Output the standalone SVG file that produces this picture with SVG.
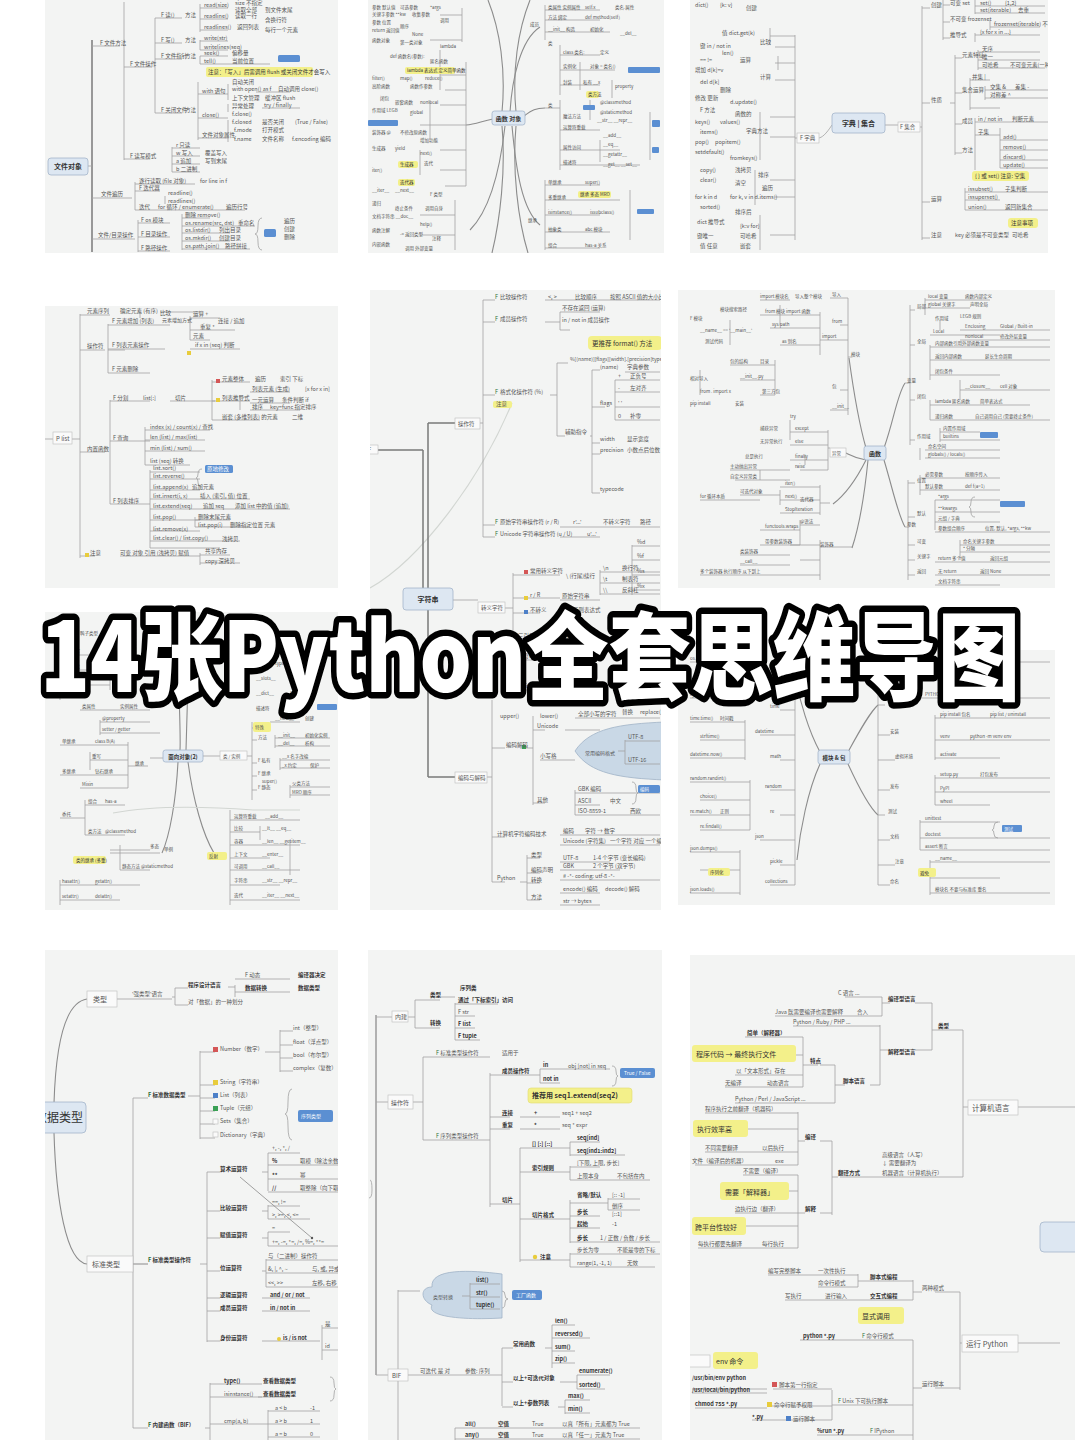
<svg xmlns="http://www.w3.org/2000/svg" width="1080" height="1440" viewBox="0 0 1080 1440">
<style>
.bg{fill:#f3f4f3}
.ln{fill:none;stroke:#a2a2a2;stroke-width:0.8}
.lk{fill:none;stroke:#7a7a7a;stroke-width:1.5}
.cv{fill:none;stroke:#8c8c8c;stroke-width:1.1}
.fc{fill:none;stroke:#d2d6d2;stroke-width:1.2}
.t{font-family:"Noto Sans CJK SC","Noto Sans",sans-serif;font-size:5.5px;fill:#555}
.tm{font-family:"Noto Sans CJK SC","Noto Sans",sans-serif;font-size:7px;fill:#3c3c3c}
.tb{font-weight:bold;fill:#333}
.root{fill:#dde7f2;stroke:#a3b5ca;stroke-width:0.8}
.nb{fill:#fafafa;stroke:#bcbcbc;stroke-width:0.6}
.hl{fill:#f3f08a}
.tag{fill:#5b8fd2}
.ir{fill:#d45656}.iy{fill:#e8cc3c}.ib{fill:#4d80c8}.ig{fill:#3aa055}
.shape{fill:#c9d8e6;stroke:#9fb3c7;stroke-width:0.8}
.ttl{font-family:"Noto Sans CJK SC","Noto Sans",sans-serif;font-weight:900;font-size:96px;fill:#ffffff;stroke:#000000;stroke-width:13;stroke-linejoin:round;paint-order:stroke}
</style>
<defs>
<clipPath id="c1"><rect x="45" y="0" width="293" height="253"/></clipPath>
<clipPath id="c2"><rect x="368" y="0" width="296" height="253"/></clipPath>
<clipPath id="c3"><rect x="690" y="0" width="358" height="253"/></clipPath>
<clipPath id="c4"><rect x="45" y="306" width="293" height="282"/></clipPath>
<clipPath id="c5"><rect x="370" y="290" width="291" height="620"/></clipPath>
<clipPath id="c6"><rect x="678" y="290" width="377" height="298"/></clipPath>
<clipPath id="c7"><rect x="45" y="612" width="293" height="298"/></clipPath>
<clipPath id="c8"><rect x="678" y="650" width="377" height="255"/></clipPath>
<clipPath id="c9"><rect x="45" y="950" width="293" height="490"/></clipPath>
<clipPath id="c10"><rect x="368" y="950" width="294" height="490"/></clipPath>
<clipPath id="c11"><rect x="690" y="955" width="385" height="485"/></clipPath>
</defs>
<rect x="0" y="0" width="1080" height="1440" fill="#ffffff"/>

<!-- Panel 1: 文件对象 -->
<g id="panel1" clip-path="url(#c1)">
<rect class="bg" x="45" y="0" width="293" height="253"/>
<g id="p1-connectors">
<path class="lk" d="M92,40 V252"/>
<path class="ln" d="M88,166 H92 M92,46 H120 M92,198 H132 M92,239 H135 M124,2 V160 M124,67 H152 M124,159 H150 M155,18 V113 M155,18 H182 M155,43 H182 M155,59 H182 M155,113 H182 M200,4 V32 M200,8 H228 M200,19 H228 M200,30 H228 M200,40 V50 M200,41 H228 M200,50 H228 M200,56 V64 M200,56 H228 M200,64 H270 M198,82 V140 M198,94 H228 M198,118 H228 M198,138 H228 M228,84 V100 M256,92 H290 M228,104 V112 M228,120 V142 M262,108 H300 M172,147 V172 M172,148 H200 M172,156 H200 M172,164 H200 M172,172 H200 M135,182 V210 M135,184 H195 M135,191 H160 M165,196 V204 M135,210 H245 M138,220 V252 M138,223 H170 M138,237 H170 M138,251 H170 M182,214 V250 M182,218 H210 M182,226 H255 M182,233 H230 M182,241 H230 M182,249 H250"/>
<path class="ln" d="M262,218 Q258,218 258,226 Q258,234 255,234 Q258,234 258,242 Q258,250 262,250"/>
</g>
<g id="p1-root"><rect class="root" x="48" y="158" width="40" height="17" rx="3"/><text class="tm tb" x="68" y="169" text-anchor="middle">文件对象</text></g>
<rect class="hl" x="206" y="67" width="107" height="10" rx="2"/>
<rect class="tag" x="278" y="55" width="22" height="7" rx="1.5"/>
<rect class="tag" x="264" y="229" width="12" height="8" rx="1.5"/>
<g class="t">
<text x="100" y="45">F 文件方法</text><text x="130" y="66">F 文件操作</text><text x="130" y="158">F 读写模式</text>
<text x="161" y="17">F 读()</text><text x="161" y="42">F 写()</text><text x="161" y="58">F 文件指针</text><text x="161" y="112">F 关闭文件</text>
<text x="185" y="17">方法</text><text x="185" y="42">方法</text><text x="185" y="58">方法</text><text x="185" y="112">方法</text>
<text x="204" y="7">read(size)</text><text x="235" y="5">size 不指定</text><text x="235" y="12">读取全部</text><text x="265" y="12">到文件末尾</text>
<text x="204" y="18">readline()</text><text x="235" y="18">读取一行</text><text x="265" y="22">含换行符</text>
<text x="204" y="29">readlines()</text><text x="237" y="29">返回列表</text><text x="265" y="32">每行一个元素</text>
<text x="204" y="40">write(str)</text><text x="204" y="49">writelines(seq)</text>
<text x="204" y="55">seek()</text><text x="232" y="55">偏移量</text><text x="204" y="63">tell()</text><text x="232" y="63">当前位置</text>
<text x="208" y="74" style="fill:#3a3a3a">注意：「写入」后需调用 flush 或关闭文件才会写入</text>
<text x="232" y="84">自动关闭</text><text x="202" y="93">with 语句</text><text x="232" y="91">with open() as f</text><text x="278" y="91">自动调用 close()</text>
<text x="232" y="100">上下文管理</text><text x="265" y="100">缓冲区 flush</text>
<text x="232" y="108">异常处理</text><text x="264" y="107">try / finally</text><text x="232" y="116">f.close()</text><text x="202" y="117">close()</text>
<text x="232" y="124">f.closed</text><text x="262" y="124">是否关闭</text><text x="295" y="124">(True / False)</text>
<text x="202" y="137">文件对象属性</text><text x="234" y="132">f.mode</text><text x="262" y="132">打开模式</text>
<text x="234" y="141">f.name</text><text x="262" y="141">文件名称</text><text x="292" y="141">f.encoding 编码</text>
<text x="176" y="147">r 只读</text><text x="176" y="155">w 写入</text><text x="205" y="155">覆盖写入</text><text x="176" y="163">a 追加</text><text x="205" y="163">写到末尾</text><text x="176" y="171">b 二进制</text>
<text x="101" y="196">文件遍历</text><text x="139" y="183">逐行读取 (file 对象)</text><text x="200" y="183">for line in f</text>
<text x="139" y="190">F 迭代器</text><text x="168" y="195">readline()</text><text x="168" y="203">readlines()</text>
<text x="139" y="209">迭代</text><text x="158" y="209">for 循环 / enumerate()</text><text x="226" y="209">遍历行号</text>
<text x="98" y="237">文件/目录操作</text><text x="141" y="222">F os 模块</text><text x="141" y="236">F 目录操作</text><text x="141" y="250">F 路径操作</text>
<text x="185" y="217">删除 remove()</text><text x="185" y="225">os.rename(src, dst)</text><text x="238" y="225">重命名</text>
<text x="185" y="232">os.listdir()</text><text x="219" y="232">列出目录</text><text x="185" y="240">os.mkdir()</text><text x="219" y="240">创建目录</text>
<text x="185" y="248">os.path.join()</text><text x="225" y="248">路径拼接</text>
<text x="284" y="223">遍历</text><text x="284" y="231">创建</text><text x="284" y="239">删除</text>
</g>
</g>

<!-- Panel 2: 函数 / 对象 -->
<g id="panel2" clip-path="url(#c2)">
<rect class="bg" x="368" y="0" width="296" height="253"/>
<g id="p2-connectors">
<path class="cv" d="M502,112 C506,70 500,30 488,0 M516,112 C512,70 518,30 530,0 M502,126 C506,170 500,220 492,253 M516,126 C512,170 518,220 528,253"/>
<path class="cv" d="M493,119 C482,121 476,124 466,125 M524,116 C532,110 536,108 545,108 M510,112 C512,80 520,40 540,27 M512,126 C516,170 522,210 540,225 M505,126 C500,170 490,210 470,230"/>
<path class="ln" d="M462,8 V42 M466,62 V186 M466,75 H440 M466,90 H445 M466,105 H440 M466,125 H420 M466,150 H440 M466,170 H440 M466,186 H445 M462,15 H440 M462,40 H430 M455,200 V250 M455,215 H420 M455,235 H420 M440,50 V90 M430,100 V140 M420,150 V175"/>
<path class="ln" d="M545,5 V40 M545,10 H600 M545,20 H600 M545,32 H610 M560,45 V95 M560,55 H600 M560,70 H615 M560,85 H600 M580,62 V90 M590,100 V120 M545,108 H560 M560,100 V170 M560,130 H600 M560,150 H620 M560,165 H640 M600,140 V162 M545,180 V250 M545,185 H600 M545,200 H620 M545,215 H600 M545,232 H610 M545,248 H600 M630,190 V240 M650,112 V160 M612,80 V98"/>
</g>
<g id="p2-root"><rect class="root" x="492" y="111" width="33" height="14" rx="2.5"/><text class="tm tb" x="508.5" y="121" text-anchor="middle" style="font-size:6px">函数 对象</text></g>
<rect class="tag" x="628" y="67" width="32" height="6" rx="1"/>
<rect class="tag" x="368" y="120" width="30" height="6" rx="1"/>
<rect class="tag" x="583" y="105" width="12" height="5" rx="1"/>
<rect class="tag" x="637" y="209" width="17" height="5" rx="1"/>
<rect class="tag" x="652" y="120" width="8" height="7" rx="1"/>
<rect class="tag" x="652" y="147" width="7" height="6" rx="1"/>
<rect class="hl" x="586" y="91" width="13" height="7" rx="2"/>
<rect class="hl" x="578" y="191" width="33" height="7" rx="2"/>
<rect class="hl" x="398" y="161" width="20" height="7" rx="2"/>
<rect class="hl" x="398" y="179" width="17" height="7" rx="2"/>
<rect class="hl" x="405" y="67" width="50" height="7" rx="2"/>
<g class="t" style="font-size:4.5px">
<text x="372" y="9">参数 默认值</text><text x="400" y="9">可选参数</text><text x="430" y="9">*args</text>
<text x="372" y="16">关键字参数 **kw</text><text x="412" y="16">收集参数</text><text x="440" y="22">调用</text>
<text x="372" y="24">参数 位置</text><text x="400" y="28">顺序</text><text x="372" y="32">return 返回值</text><text x="412" y="36">None</text>
<text x="372" y="42">函数对象</text><text x="400" y="44">第一类对象</text><text x="440" y="48">lambda</text>
<text x="390" y="58">def 函数名(参数):</text><text x="430" y="63">匿名函数</text>
<text x="407" y="72" style="fill:#333">lambda 表达式 定义简单函数</text>
<text x="372" y="80">filter()</text><text x="400" y="80">map()</text><text x="425" y="80">reduce()</text>
<text x="372" y="88">高阶函数</text><text x="410" y="88">函数作参数</text>
<text x="380" y="100">闭包</text><text x="395" y="104">嵌套函数</text><text x="420" y="104">nonlocal</text>
<text x="372" y="112">作用域 LEGB</text><text x="410" y="114">global</text>
<text x="372" y="134">装饰器 @</text><text x="400" y="134">不修改原函数</text><text x="420" y="142">增加功能</text>
<text x="372" y="150">生成器</text><text x="395" y="150">yield</text><text x="420" y="155">next()</text>
<text x="424" y="165">迭代</text><text x="400" y="166" style="fill:#333">生成器</text><text x="400" y="184" style="fill:#333">迭代器</text>
<text x="372" y="172">iter()</text><text x="372" y="192">__iter__</text><text x="395" y="192">__next__</text><text x="430" y="196">F 类型</text>
<text x="372" y="205">递归</text><text x="395" y="210">终止条件</text><text x="425" y="210">调用自身</text>
<text x="372" y="218">文档字符串 __doc__</text><text x="420" y="226">help()</text>
<text x="372" y="232">函数注解</text><text x="400" y="236">-&gt; 返回类型</text><text x="432" y="240">注释</text>
<text x="372" y="246">内嵌函数</text><text x="405" y="250">调用 外部变量</text>
<text x="530" y="26">成员</text><text x="548" y="9">类属性 实例属性</text><text x="585" y="9">self.x</text><text x="615" y="9">类名.属性</text>
<text x="548" y="19">方法 绑定</text><text x="585" y="19">def method(self)</text>
<text x="548" y="31">__init__ 构造</text><text x="590" y="31">初始化</text><text x="620" y="35">__del__</text>
<text x="548" y="45">类</text><text x="563" y="54">class 类名:</text><text x="600" y="54">定义</text>
<text x="563" y="68">实例化</text><text x="590" y="68">对象 = 类名()</text>
<text x="563" y="84">封装</text><text x="583" y="84">私有 __x</text><text x="615" y="88">property</text>
<text x="588" y="96" style="fill:#333">类方法</text><text x="600" y="104">@classmethod</text><text x="600" y="114">@staticmethod</text>
<text x="548" y="107">类</text><text x="563" y="118">魔法方法</text><text x="597" y="122">__str__ __repr__</text>
<text x="563" y="129">运算符重载</text><text x="603" y="137">__add__</text><text x="603" y="146">__eq__</text>
<text x="563" y="149">属性访问</text><text x="603" y="156">__getattr__</text><text x="563" y="164">描述符</text><text x="603" y="166">__get__ __set__</text>
<text x="580" y="196" style="fill:#333">继承 多态 MRO</text>
<text x="528" y="222">继承</text><text x="548" y="184">单继承</text><text x="585" y="184">super()</text>
<text x="548" y="199">多重继承</text><text x="548" y="214">isinstance()</text><text x="590" y="214">issubclass()</text>
<text x="548" y="231">抽象类</text><text x="585" y="231">abc 模块</text><text x="548" y="247">组合</text><text x="585" y="247">has-a 关系</text>
</g>
</g>

<!-- Panel 3: 字典 | 集合 -->
<g id="panel3" clip-path="url(#c3)">
<rect class="bg" x="690" y="0" width="358" height="253"/>
<g id="p3-connectors">
<path class="ln" d="M832,125 C826,134 822,138 818,138 M885,125 H898 M920,127 H922 M922,6 V240 M922,8 H930 M922,103 H930 M922,202 H930 M922,238 H930 M943,0 V40 M943,5 H950 M943,22 H950 M943,38 H950 M955,55 V155 M955,58 H962 M955,93 H962 M955,124 H962 M955,153 H962 M950,103 H955"/>
<path class="ln" d="M975,0 V14 M975,6 H1045 M975,13 H1045 M990,20 V30 M990,27 H1040 M975,33 V42 M975,35 H1040 M978,50 V70 M978,52 H1040 M978,60 H1040 M978,68 H1045 M970,78 V110 M970,80 H990 M985,86 V100 M985,90 H1048 M985,98 H1048 M970,108 H1000 M975,118 V170 M975,122 H1048 M975,135 H1000 M1000,128 V168 M1000,140 H1048 M1000,150 H1048 M1000,160 H1048 M1000,168 H1048 M965,188 V210 M965,192 H1048 M965,200 H1000 M965,210 H1048"/>
<path class="ln" d="M797,138 H795 M795,35 V240 M795,36 H770 M795,47 H775 M795,63 H775 M795,80 H775 M795,117 H770 M795,137 H770 M795,180 H770 M795,197 H775 M795,235 H770 M770,28 V45 M778,56 V70 M760,112 V160 M755,170 V205 M760,215 V250"/>
</g>
<g id="p3-root"><rect class="root" x="832" y="113" width="53" height="20" rx="3"/><text class="tm tb" x="858.5" y="126" text-anchor="middle">字典 | 集合</text></g>
<rect class="nb" x="797" y="133" width="22" height="10"/><rect class="nb" x="898" y="122" width="22" height="10"/>
<rect class="hl" x="972" y="171" width="57" height="10" rx="3"/>
<rect class="hl" x="1008" y="218" width="30" height="10" rx="3"/>
<g class="t">
<text x="800" y="140">F 字典</text><text x="900" y="129">F 集合</text>
<text x="931" y="7">创建</text><text x="931" y="102">性质</text><text x="931" y="201">运算</text><text x="931" y="237">注意</text>
<text x="950" y="5">可变 set</text><text x="950" y="21">不可变 frozenset</text><text x="950" y="37">推导式</text>
<text x="980" y="5">set()</text><text x="1005" y="5">{1,2}</text><text x="980" y="12">set(iterable)</text><text x="1018" y="12">去重</text>
<text x="994" y="26">frozenset(iterable) 不可变集</text><text x="980" y="34">{x for x in ...}</text>
<text x="962" y="57">元素特征</text><text x="982" y="51">无序</text><text x="982" y="59">唯一</text><text x="982" y="67">可哈希</text><text x="1010" y="67">不可变元素(一种)</text>
<text x="962" y="92">集合运算</text><text x="972" y="79">并集 |</text><text x="990" y="89">交集 &amp;</text><text x="1015" y="89">差集 -</text><text x="990" y="97">对称差 ^</text>
<text x="962" y="123">成员</text><text x="978" y="121">in / not in</text><text x="1012" y="121">判断元素</text><text x="978" y="134">子集</text>
<text x="962" y="152">方法</text><text x="1003" y="139">add()</text><text x="1003" y="149">remove()</text><text x="1003" y="159">discard()</text><text x="1003" y="167">update()</text>
<text x="975" y="178" style="fill:#333">{ } 或 set()  注意: 空集</text>
<text x="968" y="191">issubset()</text><text x="1005" y="191">子集判断</text><text x="968" y="199">issuperset()</text><text x="968" y="209">union()</text><text x="1005" y="209">返回新集合</text>
<text x="1011" y="225" style="fill:#333">注意事项</text>
<text x="955" y="237">key 必须是不可变类型</text><text x="1012" y="237">可哈希</text>
<text x="695" y="7">dict()</text><text x="720" y="7">{k: v}</text><text x="746" y="10">创建</text>
<text x="722" y="35">值 dict.get(k)</text><text x="760" y="44">比较</text><text x="700" y="48">键 in / not in</text>
<text x="722" y="55">len()</text><text x="740" y="62">运算</text><text x="700" y="62">==  !=</text>
<text x="695" y="72">增加 d[k]=v</text><text x="760" y="79">计算</text><text x="700" y="84">del d[k]</text><text x="720" y="92">删除</text>
<text x="695" y="100">修改 更新</text><text x="730" y="104">d.update()</text>
<text x="700" y="112">F 方法</text><text x="735" y="116">函数的</text>
<text x="695" y="124">keys()</text><text x="720" y="124">values()</text><text x="746" y="133">字典方法</text>
<text x="700" y="134">items()</text><text x="695" y="144">pop()</text><text x="715" y="144">popitem()</text>
<text x="695" y="154">setdefault()</text><text x="730" y="160">fromkeys()</text>
<text x="700" y="172">copy()</text><text x="735" y="172">浅拷贝</text><text x="758" y="177">排序</text>
<text x="700" y="182">clear()</text><text x="735" y="185">清空</text><text x="762" y="190">遍历</text>
<text x="695" y="199">for k in d</text><text x="730" y="199">for k, v in d.items()</text>
<text x="700" y="209">sorted()</text><text x="735" y="214">排序后</text>
<text x="697" y="224">dict 推导式</text><text x="740" y="228">{k:v for}</text>
<text x="697" y="238">键唯一</text><text x="740" y="238">可哈希</text><text x="700" y="248">值 任意</text><text x="740" y="248">嵌套</text>
</g>
</g>

<!-- Panel 4: list -->
<g id="panel4" clip-path="url(#c4)">
<rect class="bg" x="45" y="306" width="293" height="282"/>
<g id="p4-connectors">
<path class="ln" d="M45,439 H53 M72,439 H80 M80,314 V558 M80,315 H110 M80,350 H105 M80,452 H105 M80,556 H95 M108,324 V373 M108,325 H170 M108,349 H165 M108,373 H150 M110,400 V504 M110,401 H150 M110,441 H150 M110,504 H150 M125,350 H108 M140,312 V318 M160,312 H200 M190,316 V340 M190,318 H220 M190,330 H235 M190,340 H210 M190,349 H240 M170,401 H215 M212,380 V420 M212,382 H250 M212,401 H250 M212,420 H260 M240,396 V410 M250,392 H290 M250,403 H290 M250,410 H300 M145,427 V465 M145,430 H210 M145,440 H205 M145,451 H205 M145,465 H190 M150,470 V548 M150,472 H200 M150,479 H200 M150,490 H200 M150,499 H250 M150,509 H290 M150,520 H200 M150,531 H200 M150,541 H240 M150,548 H220 M195,517 V527 M195,520 H230 M195,527 H250 M120,556 H200 M200,553 V565 M200,555 H230 M200,563 H240"/>
<path class="ln" d="M202,469 Q198,469 198,474 Q198,478 196,478 Q198,478 198,482 Q198,487 202,487"/>
</g>
<g id="p4-root"><rect class="nb" x="53" y="432" width="19" height="12"/><text class="t" x="56" y="441" style="font-size:6px">P list</text></g>
<rect class="ir" x="216" y="379" width="4" height="4"/><rect class="iy" x="216" y="398" width="4" height="4"/><rect class="iy" x="187" y="351" width="4" height="4"/><rect class="iy" x="85" y="553" width="4" height="4"/>
<rect class="tag" x="205" y="465" width="28" height="8" rx="1.5"/>
<g class="t">
<text x="87" y="313">元素序列</text><text x="120" y="313">确定元素 (有序)</text>
<text x="87" y="348">操作符</text><text x="112" y="323">F 元素增加 (列表)</text><text x="162" y="322" style="font-size:5px">元素增加方式</text><text x="218" y="323">连接 / 追加</text>
<text x="112" y="347">F 列表元素操作</text><text x="160" y="315">比较</text><text x="193" y="316">运算 +</text><text x="200" y="329">重复 *</text><text x="193" y="338">元素</text>
<text x="195" y="347">if x in (seq) 判断</text><text x="112" y="371">F 元素删除</text>
<text x="87" y="451">内置函数</text><text x="113" y="400">F 分割</text><text x="143" y="400">list[:]</text><text x="175" y="400">切片</text>
<text x="222" y="381">元素整体</text><text x="255" y="381">遍历</text><text x="280" y="381">索引 下标</text>
<text x="222" y="400">列表推导式</text><text x="252" y="391">列表元素 (生成)</text><text x="305" y="391">[x for x in]</text>
<text x="252" y="402">一元运算</text><text x="282" y="402">条件判断 if</text><text x="252" y="409">排序</text><text x="270" y="409">key=func 指定排序</text>
<text x="222" y="419">嵌套 (多维列表) 的元素</text><text x="292" y="419">二维</text>
<text x="113" y="440">F 查询</text><text x="150" y="429">index (x) / count(x) / 查找</text><text x="150" y="439">len (list) / max(list)</text>
<text x="150" y="450">min (list) / sum()</text><text x="150" y="463">list (seq) 转换</text>
<text x="113" y="503">F 列表排序</text><text x="153" y="470">list.sort()</text><text x="153" y="478">list.reverse()</text>
<text x="207" y="471" style="fill:#fff">原地修改</text>
<text x="153" y="489">list.append(x)</text><text x="192" y="489">追加元素</text>
<text x="153" y="498">list.insert(i, x)</text><text x="200" y="498">插入 (索引, 值) 位置</text>
<text x="153" y="508">list.extend(seq)</text><text x="203" y="508">追加 seq</text><text x="235" y="508">添加 list 中的值 (追加)</text>
<text x="153" y="519">list.pop()</text><text x="198" y="519">删除末尾元素</text><text x="198" y="527">list.pop(i)</text><text x="230" y="527">删除指定位置 元素</text>
<text x="153" y="531">list.remove(x)</text><text x="153" y="540">list.clear() / list.copy()</text><text x="222" y="541">浅拷贝</text>
<text x="90" y="555">注意</text><text x="120" y="555">可变 对象 引用 (浅拷贝) 赋值</text><text x="205" y="553">共享内存</text><text x="205" y="563">copy 深拷贝</text>
</g>
</g>

<!-- Panel 5: 字符串 -->
<g id="panel5" clip-path="url(#c5)">
<rect class="bg" x="370" y="290" width="291" height="620"/>
<g id="p5-connectors">
<path class="fc" d="M370,588 C420,560 480,480 512,403"/>
<path class="lk" d="M423,450 V597 M428,423 V777 M378,450 H423 M428,423 H455 M428,777 H455"/>
<path class="ln" d="M453,600 H478 M480,423 H483 M483,300 V537 M483,300 H495 M483,322 H495 M483,395 H495 M483,525 H495 M483,537 H495 M545,300 H660 M545,322 H560 M560,312 V330 M560,312 H600 M560,330 H570 M550,395 H557 M557,363 V436 M557,363 H568 M557,436 H565 M590,436 H592 M592,370 V493 M592,370 H600 M592,407 H605 M592,443 H600 M592,454 H600 M592,493 H600 M615,380 V420 M615,380 H660 M615,392 H660 M615,407 H660 M615,420 H660 M625,372 H660 M632,545 V595 M632,546 H660 M632,560 H660 M632,575 H660 M632,590 H660 M560,527 H660 M560,537 H600"/>
<path class="ln" d="M505,608 H513 M513,573 V690 M513,575 H560 M513,598 H560 M513,613 H540 M513,640 H540 M513,660 H560 M513,690 H560 M600,570 V595 M600,572 H660 M600,583 H660 M600,594 H660 M560,600 H600"/>
<path class="ln" d="M487,777 H492 M492,700 V882 M492,748 H505 M492,837 H505 M492,882 H505 M533,716 V805 M533,730 H545 M533,803 H545 M520,748 H533 M565,730 H600 M575,718 H660 M540,760 H575 M575,790 V815 M575,793 H660 M575,805 H600 M575,815 H660 M527,855 V900 M527,858 H540 M527,873 H540 M527,883 H540 M527,900 H540 M520,882 H527 M560,835 H660 M560,845 H660 M560,862 H610 M560,870 H620 M560,880 H660 M560,893 H600 M560,905 H600"/>
<path class="ln" d="M632,782 Q636,782 636,788 Q636,793 638,793 Q636,793 636,798 Q636,804 632,804"/>
</g>
<path class="shape" d="M575,751 C590,728 620,724 665,722 V780 C620,778 590,774 575,751 Z"/>
<path class="ln" d="M618,751 H625 M625,740 V764 M625,741 H660 M625,764 H660"/>
<g id="p5-root"><rect class="root" x="403" y="588" width="50" height="22" rx="3"/><text class="tm tb" x="428" y="602" text-anchor="middle">字符串</text></g>
<rect class="nb" x="455" y="418" width="25" height="11"/><rect class="nb" x="365" y="445" width="13" height="9"/>
<rect class="nb" x="478" y="602" width="27" height="11"/><rect class="nb" x="455" y="772" width="32" height="11"/>
<rect class="hl" x="588" y="336" width="74" height="14" rx="4"/>
<rect class="hl" x="493" y="401" width="19" height="7" rx="2"/>
<rect class="tag" x="638" y="785" width="22" height="8" rx="1.5"/>
<rect class="ir" x="524" y="570" width="4" height="4"/><rect class="iy" x="524" y="596" width="4" height="4"/><rect class="ib" x="524" y="610" width="4" height="4"/><rect class="ig" x="522" y="745" width="4" height="4"/>
<g class="t">
<text x="458" y="426">操作符</text><text x="368" y="452">F</text><text x="481" y="610">转义字符</text><text x="458" y="780">编码与解码</text>
<text x="495" y="299" style="fill:#2b6f3a">F</text><text x="500" y="299">比较操作符</text><text x="548" y="299">&lt;, &gt;</text><text x="575" y="299">比较顺序</text><text x="610" y="299">按照 ASCII 值的大小比较</text>
<text x="495" y="321" style="fill:#2b6f3a">F</text><text x="500" y="321">成员操作符</text><text x="562" y="310">不存在返回 (运算)</text><text x="562" y="322">in / not in 成员操作</text>
<text x="592" y="346" style="fill:#333;font-size:6.5px">更推荐 format() 方法</text>
<text x="570" y="361" style="font-size:5px">%[(name)][flags][width].[precision]typecode</text>
<text x="495" y="394" style="fill:#2b6f3a">F</text><text x="500" y="394">格式化操作符 (%)</text><text x="496" y="406">注意</text>
<text x="565" y="434">辅助指令</text>
<text x="600" y="369">(name)</text><text x="627" y="369">字典参数</text><text x="600" y="405">flags</text><text x="618" y="378">+</text><text x="630" y="378">正负号</text>
<text x="618" y="390">-</text><text x="630" y="390">左对齐</text><text x="618" y="405">' '</text><text x="618" y="418">0</text><text x="630" y="418">补零</text>
<text x="600" y="441">width</text><text x="627" y="441">显示宽度</text><text x="600" y="452">precision</text><text x="627" y="452">小数点后位数</text>
<text x="600" y="491">typecode</text><text x="637" y="544">%d</text><text x="637" y="558">%f</text><text x="637" y="573">%s</text><text x="637" y="588">%x</text>
<text x="495" y="524" style="fill:#2b6f3a">F</text><text x="500" y="524">原始字符串操作符 (r / R)</text><text x="573" y="524">r'...'</text><text x="603" y="524">不转义字符</text><text x="640" y="524">路径</text>
<text x="495" y="536" style="fill:#2b6f3a">F</text><text x="500" y="536">Unicode 字符串操作符 (u / U)</text><text x="587" y="536">u'...'</text>
<text x="530" y="573">常用转义字符</text><text x="566" y="578">\ (行尾)续行</text><text x="603" y="570">\n</text><text x="622" y="570">换行符</text>
<text x="603" y="581">\t</text><text x="622" y="581">制表符</text><text x="603" y="592">\\</text><text x="622" y="592">反斜杠</text>
<text x="530" y="597">r / R</text><text x="562" y="598">原始字符串</text><text x="530" y="612">不转义</text><text x="562" y="612">用在正则表达式</text>
<text x="518" y="638">三引号</text><text x="545" y="638">多行字符串</text><text x="518" y="658">字符串方法</text><text x="562" y="658">find() / index()</text>
<text x="518" y="688">split()</text><text x="562" y="688">join() / strip()</text>
<text x="500" y="718">upper()</text><text x="540" y="718">lower()</text><text x="622" y="714">替换</text><text x="640" y="714">replace()</text>
<text x="506" y="747">编码解码</text><text x="537" y="728">Unicode</text><text x="540" y="758">小写格</text><text x="578" y="716">全部小写的字符</text>
<text x="585" y="755" style="font-size:5px">常用编码格式</text><text x="628" y="739">UTF-8</text><text x="628" y="762">UTF-16</text>
<text x="640" y="791" style="fill:#fff;font-size:4.5px">编码</text>
<text x="537" y="802">其他</text><text x="578" y="791">GBK 编码</text><text x="578" y="803">ASCII</text><text x="578" y="813">ISO-8859-1</text><text x="610" y="803">中文</text><text x="630" y="813">西欧</text>
<text x="497" y="836">计算机字符编码技术</text><text x="563" y="833">编码</text><text x="585" y="833">字符 → 数字</text>
<text x="563" y="843">Unicode (字符集)</text><text x="610" y="843">一个字符 对应 一个编码值</text>
<text x="497" y="880">Python</text><text x="531" y="857">类型</text><text x="563" y="860">UTF-8</text><text x="593" y="860">1-4 个字节 (变长编码)</text>
<text x="563" y="868">GBK</text><text x="593" y="868">2 个字节 (双字节)</text>
<text x="531" y="872">编码声明</text><text x="563" y="878"># -*- coding: utf-8 -*-</text>
<text x="531" y="882">转换</text><text x="563" y="891">encode() 编码</text><text x="605" y="891">decode() 解码</text>
<text x="531" y="899">方法</text><text x="563" y="903">str → bytes</text>
</g>
</g>

<!-- Panel 6 -->
<g id="panel6" clip-path="url(#c6)">
<rect class="bg" x="678" y="290" width="377" height="298"/>
<g id="p6-connectors">
<path class="cv" d="M866,448 C858,420 852,380 849,358 M866,460 C855,458 850,455 846,453 M866,460 C856,480 845,495 833,504 M868,460 C864,500 858,530 852,548 M884,448 C894,420 897,395 905,383 M884,460 C893,490 898,515 905,527"/>
<path class="ln" d="M848,298 V415 M848,298 H830 M848,325 H840 M848,340 H820 M848,357 H852 M848,390 H840 M848,410 H830 M820,312 V355 M820,315 H760 M820,328 H770 M820,345 H780 M780,305 V325 M760,300 H790 M730,320 V345 M775,360 V395 M775,365 H730 M775,380 H740 M775,395 H760 M700,370 V395"/>
<path class="ln" d="M830,448 H828 M828,430 V470 M828,432 H790 M828,445 H790 M828,460 H790 M828,470 H800 M790,420 V440 M805,455 V465 M760,470 V480 M730,470 H790 M735,480 H790 M830,503 H820 M820,485 V515 M820,487 H780 M820,500 H780 M820,513 H780 M780,490 V505 M740,495 H780 M700,500 H760 M820,540 V580 M852,547 H820 M820,525 H800 M820,545 H790 M820,560 H800 M820,575 H790 M800,520 V545 M760,530 H800 M760,545 H800 M740,555 H790 M740,565 H790 M700,575 H790"/>
<path class="ln" d="M905,383 H910 M910,305 V445 M910,310 H915 M910,345 H915 M910,400 H915 M910,440 H915 M925,298 V315 M925,300 H990 M925,308 H970 M940,320 V330 M930,335 H1000 M960,330 H1050 M960,340 H1050 M930,345 V380 M930,347 H1050 M930,360 H1050 M930,375 H1000 M960,380 V400 M960,390 H1050 M930,400 V420 M930,405 H1030 M930,420 H1050 M940,428 V442 M940,432 H980 M940,440 H1000 M920,448 V460 M925,450 H1000 M925,458 H1000"/>
<path class="ln" d="M905,527 H908 M908,480 V580 M908,483 H915 M908,517 H915 M908,545 H915 M908,560 H915 M908,575 H915 M920,475 V495 M920,478 H1000 M920,490 H1000 M935,500 V530 M935,500 H1000 M935,512 H1000 M935,522 H1000 M935,532 H1050 M960,540 V560 M960,545 H1050 M960,552 H1050 M935,562 H1050 M935,575 H1050 M935,585 H1000"/>
<path class="ln" d="M975,497 Q971,497 971,502 Q971,507 969,507 Q971,507 971,512 Q971,517 975,517"/>
</g>
<g id="p6-root"><rect class="root" x="864" y="446" width="22" height="14" rx="2.5"/><text class="tm tb" x="875" y="455.5" text-anchor="middle" style="font-size:6px">函数</text></g>
<rect class="nb" x="830" y="448" width="16" height="9"/>
<rect class="tag" x="980" y="432" width="18" height="6" rx="1"/>
<rect class="tag" x="1000" y="501" width="25" height="6" rx="1"/>
<g class="t" style="font-size:4.5px">
<text x="851" y="356">模块</text><text x="832" y="296">导入</text><text x="832" y="323">from</text><text x="822" y="338">import</text><text x="832" y="388">包</text><text x="832" y="408">__init__</text>
<text x="760" y="298">import 模块名</text><text x="795" y="298">导入整个模块</text><text x="765" y="313">from 模块 import 函数</text>
<text x="720" y="311">模块搜索路径</text><text x="772" y="326">sys.path</text><text x="782" y="343">as 别名</text>
<text x="690" y="320">F 模块</text><text x="700" y="332">__name__ == '__main__'</text><text x="705" y="343">测试代码</text>
<text x="730" y="363">包的结构</text><text x="760" y="363">目录</text><text x="740" y="378">__init__.py</text><text x="690" y="380">相对导入</text>
<text x="700" y="393">from . import x</text><text x="762" y="393">第三方包</text><text x="690" y="405">pip install</text><text x="735" y="405">安装</text>
<text x="832" y="455">异常</text><text x="790" y="418">try</text><text x="795" y="430">except</text><text x="760" y="430">捕获异常</text><text x="795" y="443">else</text><text x="760" y="443">无异常执行</text>
<text x="795" y="458">finally</text><text x="745" y="458">总是执行</text><text x="795" y="468">raise</text><text x="730" y="468">主动抛出异常</text><text x="730" y="478">自定义异常类</text>
<text x="800" y="501">迭代器</text><text x="785" y="485">iter()</text><text x="785" y="498">next()</text><text x="785" y="511">StopIteration</text>
<text x="740" y="493">可迭代对象</text><text x="700" y="498">for 循环本质</text>
<text x="820" y="546">装饰器</text><text x="800" y="523">@语法</text><text x="765" y="528">functools.wraps</text><text x="765" y="543">带参数装饰器</text>
<text x="740" y="553">类装饰器</text><text x="740" y="563">__call__</text><text x="700" y="573">多个装饰器 执行顺序 从下到上</text>
<text x="907" y="382">变量</text><text x="917" y="308">局部</text><text x="917" y="343">全局</text><text x="917" y="398">闭包</text><text x="917" y="438">作用域</text>
<text x="928" y="298">local 变量</text><text x="965" y="298">函数内部定义</text><text x="928" y="306">global 关键字</text><text x="970" y="306">声明全局</text>
<text x="935" y="320">作用域</text><text x="960" y="318">LEGB 规则</text><text x="933" y="333">Local</text><text x="965" y="328">Enclosing</text><text x="1000" y="328">Global / Built-in</text>
<text x="965" y="338">nonlocal</text><text x="1000" y="338">修改外层变量</text><text x="935" y="345">内部函数引用外部函数变量</text><text x="935" y="358">返回内部函数</text><text x="985" y="358">延长生命周期</text>
<text x="935" y="373">闭包条件</text><text x="965" y="388">__closure__</text><text x="1000" y="388">cell 对象</text>
<text x="935" y="403">lambda 匿名函数</text><text x="980" y="403">简单表达式</text><text x="935" y="418">递归函数</text><text x="975" y="418">自己调用自己 (需要终止条件)</text>
<text x="943" y="430">内置作用域</text><text x="943" y="438">builtins</text><text x="928" y="448">命名空间</text><text x="928" y="456">globals() / locals()</text>
<text x="907" y="526">参数</text><text x="917" y="482">位置</text><text x="917" y="515">默认</text><text x="917" y="543">可变</text><text x="917" y="558">关键字</text><text x="917" y="573">返回</text>
<text x="925" y="476">必需参数</text><text x="965" y="476">按顺序传入</text><text x="925" y="488">默认参数</text><text x="965" y="488">def f(a=1)</text>
<text x="938" y="498">*args</text><text x="938" y="510">**kwargs</text><text x="938" y="520">元组 / 字典</text>
<text x="938" y="530">参数组合顺序</text><text x="985" y="530">位置, 默认, *args, **kw</text>
<text x="963" y="543">命名关键字参数</text><text x="963" y="550">* 分隔</text><text x="938" y="560">return 多个值</text><text x="990" y="560">返回元组</text>
<text x="938" y="573">无 return</text><text x="980" y="573">返回 None</text><text x="938" y="583">文档字符串</text>
</g>
</g>

<!-- Panel 7 -->
<g id="panel7" clip-path="url(#c7)">
<rect class="bg" x="45" y="612" width="293" height="298"/>
<g id="p7-connectors">
<path class="cv" d="M176,612 C179,690 181,735 180,750 M190,612 C188,690 186,735 186,750 M178,762 C176,800 170,835 162,853 M188,762 C193,800 203,835 214,853"/>
<path class="fc" d="M113,813 C150,806 200,806 253,810 H300"/>
<path class="ln" d="M203,756 H220 M247,756 H252 M252,722 V800 M252,728 H257 M252,740 H257 M252,763 H257 M252,776 H257 M252,790 H257 M270,722 H300 M275,735 V748 M275,738 H330 M275,746 H330 M280,758 V770 M280,760 H330 M280,768 H330 M290,785 V798 M290,787 H330 M290,795 H330"/>
<path class="ln" d="M163,758 H150 M148,766 H128 M128,742 V788 M128,745 H60 M128,760 H90 M128,775 H60 M128,788 H80 M90,752 V770 M60,650 V700 M110,650 V690 M110,655 H60 M110,670 H70 M110,685 H60 M80,710 H150 M100,720 V735 M100,722 H150 M100,733 H160"/>
<path class="ln" d="M230,810 V905 M230,820 H300 M230,832 H260 M230,845 H300 M230,858 H270 M230,870 H300 M230,885 H280 M230,900 H300 M260,826 V840 M290,840 V875"/>
<path class="ln" d="M85,800 V835 M85,805 H125 M85,818 H60 M85,835 H125 M120,845 V870 M110,850 H150 M120,870 H150 M160,853 H110 M60,880 V905 M60,885 H140 M60,900 H120"/>
</g>
<g id="p7-root"><rect class="root" x="163" y="750" width="40" height="12" rx="2.5"/><text class="tm tb" x="183" y="758.5" text-anchor="middle" style="font-size:5.5px">面向对象(2)</text></g>
<rect class="nb" x="220" y="751" width="27" height="9"/>
<rect class="hl" x="253" y="722" width="18" height="10" rx="2"/>
<rect class="hl" x="73" y="856" width="33" height="8" rx="2"/>
<rect class="hl" x="207" y="852" width="20" height="8" rx="2"/>
<rect class="tag" x="317" y="704" width="20" height="6" rx="1"/>
<g class="t" style="font-size:4.5px">
<text x="223" y="757.5">类 / 实例</text><text x="255" y="729">特殊</text><text x="258" y="739">方法</text><text x="258" y="762">F 私有</text><text x="258" y="775">F 继承</text><text x="258" y="789">F 静态</text>
<text x="275" y="720">__new__</text><text x="305" y="720">创建</text><text x="278" y="737">__init__</text><text x="305" y="737">初始化实例</text><text x="278" y="745">__del__</text><text x="305" y="745">析构</text>
<text x="282" y="758">__x 名字改编</text><text x="282" y="767">_x 约定</text><text x="310" y="767">保护</text>
<text x="262" y="783">super()</text><text x="292" y="785">父类方法</text><text x="292" y="794">MRO 顺序</text>
<text x="135" y="765">继承</text><text x="62" y="743">单继承</text><text x="95" y="743">class B(A)</text><text x="92" y="758">重写</text><text x="62" y="773">多继承</text><text x="95" y="773">钻石继承</text><text x="82" y="786">Mixin</text>
<text x="50" y="635">F 多态</text><text x="80" y="635">鸭子类型</text><text x="110" y="640">接口</text>
<text x="62" y="653">方法重写</text><text x="62" y="668">抽象基类</text><text x="62" y="683">abc</text><text x="112" y="653">同一方法</text><text x="112" y="668">不同行为</text>
<text x="82" y="708">类属性</text><text x="120" y="708">实例属性</text><text x="102" y="720">@property</text><text x="102" y="731">setter / getter</text>
<text x="256" y="665">元类</text><text x="275" y="665">type</text><text x="300" y="665">创建类的类</text><text x="256" y="680">__slots__</text><text x="290" y="680">限制属性</text>
<text x="256" y="695">__dict__</text><text x="290" y="695">属性字典</text><text x="256" y="710">描述符</text><text x="290" y="710">__get__</text>
<text x="234" y="818">运算符重载</text><text x="265" y="818">__add__</text><text x="234" y="830">比较</text><text x="262" y="830">__lt__ __eq__</text>
<text x="234" y="843">容器</text><text x="262" y="843">__len__ __getitem__</text><text x="234" y="856">上下文</text><text x="262" y="856">__enter__</text>
<text x="234" y="868">可调用</text><text x="262" y="868">__call__</text><text x="234" y="882">字符串</text><text x="262" y="882">__str__ __repr__</text>
<text x="234" y="897">迭代</text><text x="262" y="897">__iter__ __next__</text>
<text x="88" y="803">组合</text><text x="105" y="803">has-a</text><text x="62" y="816">委托</text><text x="88" y="833">类方法</text><text x="105" y="833">@classmethod</text>
<text x="150" y="848">多态</text><text x="122" y="868">静态方法 @staticmethod</text><text x="164" y="851">单例</text>
<text x="76" y="862" style="fill:#333">类的继承 (多重)</text><text x="209" y="858" style="fill:#333">反射</text>
<text x="62" y="883">hasattr()</text><text x="95" y="883">getattr()</text><text x="62" y="898">setattr()</text><text x="95" y="898">delattr()</text>
</g>
</g>

<!-- Panel 8 -->
<g id="panel8" clip-path="url(#c8)">
<rect class="bg" x="678" y="650" width="377" height="255"/>
<g id="p8-connectors">
<path class="cv" d="M820,752 C808,730 800,700 797,685 M820,764 C808,790 800,830 797,860 M848,752 C860,730 870,712 878,705 M848,764 C860,790 870,808 878,815"/>
<path class="ln" d="M795,665 V885 M795,670 H780 M795,690 H770 M795,710 H780 M795,735 H760 M795,760 H780 M795,790 H770 M795,815 H780 M795,840 H760 M795,865 H780 M795,885 H770 M760,660 V700 M760,662 H690 M760,680 H700 M760,698 H690 M745,720 V760 M745,722 H690 M745,740 H700 M745,758 H690 M750,780 V830 M750,782 H690 M750,800 H700 M750,815 H690 M750,830 H700 M740,850 V895 M740,852 H690 M740,870 H700 M740,893 H690"/>
<path class="ln" d="M878,665 V885 M878,668 H890 M878,690 H895 M878,705 H885 M878,735 H890 M878,760 H895 M878,790 H890 M878,815 H885 M878,840 H890 M878,865 H895 M878,885 H890 M920,660 V700 M920,662 H1050 M920,680 H1000 M920,698 H1050 M935,715 V760 M935,718 H1050 M935,740 H1050 M935,758 H1000 M935,775 V805 M935,778 H1050 M935,792 H1050 M935,805 H990 M920,820 V850 M920,822 H1000 M920,838 H1050 M920,850 H1050 M930,860 V895 M930,862 H1050 M930,878 H1000 M930,893 H1050"/>
<path class="ln" d="M998,822 Q994,822 994,826 Q994,830 992,830 Q994,830 994,834 Q994,838 998,838"/>
</g>
<g id="p8-root"><rect class="root" x="818" y="750" width="32" height="14" rx="2.5"/><text class="tm tb" x="834" y="759.5" text-anchor="middle" style="font-size:5.5px">模块 &amp; 包</text></g>
<rect class="tag" x="1002" y="825" width="20" height="7" rx="1"/>
<rect class="hl" x="708" y="868" width="22" height="8" rx="2"/>
<rect class="hl" x="918" y="868" width="18" height="9" rx="2"/>
<g class="t" style="font-size:4.5px">
<text x="770" y="668">os</text><text x="765" y="688">sys</text><text x="770" y="708">time</text><text x="755" y="733">datetime</text><text x="770" y="758">math</text>
<text x="765" y="788">random</text><text x="770" y="813">re</text><text x="755" y="838">json</text><text x="770" y="863">pickle</text><text x="765" y="883">collections</text>
<text x="690" y="660">os.getcwd()</text><text x="722" y="660">当前目录</text><text x="700" y="678">os.path.exists()</text><text x="690" y="696">sys.argv</text><text x="720" y="696">命令行参数</text>
<text x="690" y="720">time.time()</text><text x="720" y="720">时间戳</text><text x="700" y="738">strftime()</text><text x="690" y="756">datetime.now()</text>
<text x="690" y="780">random.randint()</text><text x="700" y="798">choice()</text><text x="690" y="813">re.match()</text><text x="720" y="813">正则</text><text x="700" y="828">re.findall()</text>
<text x="690" y="850">json.dumps()</text><text x="710" y="874" style="fill:#333">序列化</text><text x="690" y="891">json.loads()</text>
<text x="890" y="666">导入</text><text x="895" y="688">搜索路径</text><text x="888" y="703">包</text><text x="890" y="733">安装</text><text x="895" y="758">虚拟环境</text>
<text x="890" y="788">发布</text><text x="888" y="813">测试</text><text x="890" y="838">文档</text><text x="895" y="863">注意</text><text x="890" y="883">命名</text>
<text x="925" y="660">import 模块名</text><text x="975" y="660">from ... import ...</text><text x="925" y="678">sys.path</text><text x="925" y="696">PYTHONPATH 环境变量</text>
<text x="940" y="716">pip install 包名</text><text x="990" y="716">pip list / uninstall</text><text x="940" y="738">venv</text><text x="970" y="738">python -m venv env</text><text x="940" y="756">activate</text>
<text x="940" y="776">setup.py</text><text x="980" y="776">打包发布</text><text x="940" y="790">PyPI</text><text x="940" y="803">wheel</text>
<text x="925" y="820">unittest</text><text x="925" y="836">doctest</text><text x="1004" y="831" style="fill:#fff">测试</text><text x="925" y="848">assert 断言</text>
<text x="935" y="860">__name__</text><text x="920" y="875" style="fill:#333">避免</text><text x="935" y="891">模块名 不要与标准库 重名</text>
</g>
</g>

<!-- Panel 9: 数据类型 -->
<g id="panel9" clip-path="url(#c9)">
<rect class="bg" x="45" y="950" width="293" height="490"/>
<g id="p9-connectors">
<path class="cv" d="M54,1103 C56,1040 66,1002 87,999 M54,1133 C56,1200 66,1262 87,1264"/>
<path class="ln" d="M117,999 H172 M175,988 V1005 M172,997 H175 M175,988 H188 M175,1005 H188 M235,985 V997 M228,987 H235 M235,979 H290 M235,992 H290 M133,1264 H148 M133,1098 V1428 M133,1098 H148 M133,1428 H148 M133,1264 H148 M188,1096 H200 M200,1051 V1139 M200,1052 H215 M200,1085 H215 M200,1098 H215 M200,1111 H215 M200,1124 H215 M200,1138 H215 M265,1052 H280 M280,1030 V1072 M280,1031 H293 M280,1045 H293 M280,1058 H293 M280,1071 H293"/>
<path class="ln" d="M292,1089 Q288,1089 288,1102 Q288,1114 285,1114 Q288,1114 288,1126 Q288,1140 292,1140"/>
<path class="ln" d="M200,1264 H207 M207,1172 V1342 M207,1172 H220 M207,1211 H220 M207,1238 H220 M207,1271 H220 M207,1298 H220 M207,1311 H220 M207,1341 H220 M262,1172 H268 M268,1153 V1191 M268,1153 H300 M268,1165 H338 M268,1179 H338 M268,1192 H338 M262,1211 H268 M268,1205 V1219 M268,1206 H300 M268,1219 H310 M262,1238 H268 M268,1232 V1246 M268,1232 H290 M268,1246 H338 M262,1271 H266 M266,1259 V1287 M266,1260 H338 M266,1273 H338 M266,1287 H338 M262,1298 H310 M262,1311 H310 M262,1341 H320 M322,1325 V1360 M322,1328 H338 M322,1350 H338"/>
<path class="ln" d="M240,1177 L312,1238" style="stroke:#8a8a8a"/>
<circle cx="312" cy="1238" r="1.2" fill="#555"/>
<path class="ln" d="M205,1428 H210 M210,1383 V1440 M210,1384 H262 M210,1397 H262 M210,1424 H262 M258,1397 H290 M262,1424 H268 M268,1410 V1440 M268,1411 H320 M268,1424 H320 M268,1437 H320"/>
<path class="ln" d="M330,1377 Q334,1377 334,1383 Q334,1389 336,1389 Q334,1389 334,1395 Q334,1401 330,1401"/>
</g>
<g id="p9-root"><rect class="root" x="10" y="1102" width="76" height="31" rx="4"/><text class="tm" x="83" y="1122" text-anchor="end" style="font-size:12px;fill:#333">数据类型</text></g>
<rect class="nb" x="87" y="991" width="30" height="16"/><rect class="nb" x="87" y="1256" width="46" height="16"/>
<rect class="ir" x="213" y="1047" width="5" height="5"/><rect class="iy" x="213" y="1080" width="5" height="5"/><rect class="ib" x="213" y="1093" width="5" height="5"/><rect class="ig" x="213" y="1106" width="5" height="5"/><rect class="nb" x="213" y="1119" width="5" height="5"/><rect class="nb" x="213" y="1132" width="5" height="5"/>
<circle cx="279" cy="1339" r="2" fill="#e8cc3c"/>
<rect class="tag" x="298" y="1110" width="35" height="12" rx="2"/>
<g class="t" style="font-size:5.5px">
<text x="93" y="1002" style="font-size:7px">类型</text><text x="92" y="1267" style="font-size:7px">标准类型</text>
<text x="132" y="996">'强类型'语言</text><text x="188" y="987" class="tb">程序设计语言</text><text x="188" y="1004">对「数据」的一种划分</text>
<text x="245" y="977">F 动态</text><text x="298" y="977" class="tb">编译器决定</text><text x="245" y="990" class="tb">数据转换</text><text x="298" y="990" class="tb">数据类型</text>
<text x="148" y="1097" class="tb"><tspan style="fill:#2b6f3a">F </tspan>标准数据类型</text>
<text x="220" y="1051">Number（数字）</text><text x="220" y="1084">String（字符串）</text><text x="220" y="1097">List（列表）</text><text x="220" y="1110">Tuple（元组）</text><text x="220" y="1123">Sets（集合）</text><text x="220" y="1137">Dictionary（字典）</text>
<text x="293" y="1030">int（整型）</text><text x="293" y="1044">float（浮点型）</text><text x="293" y="1057">bool（布尔型）</text><text x="293" y="1070">complex（复数）</text>
<text x="301" y="1118" style="fill:#fff;font-size:5px">序列类型</text>
<text x="148" y="1262" class="tb"><tspan style="fill:#2b6f3a">F </tspan>标准类型操作符</text>
<text x="220" y="1171" class="tb">算术运算符</text><text x="220" y="1210" class="tb">比较运算符</text><text x="220" y="1237" class="tb">赋值运算符</text><text x="220" y="1270" class="tb">位运算符</text>
<text x="220" y="1297" class="tb">逻辑运算符</text><text x="220" y="1310" class="tb">成员运算符</text><text x="220" y="1340" class="tb">身份运算符</text>
<text x="272" y="1150">+, -, *, /</text><text x="272" y="1163" class="tb">%</text><text x="300" y="1163">取模（除法余数）</text>
<text x="272" y="1177" class="tb">**</text><text x="300" y="1177">幂</text><text x="272" y="1190" class="tb">//</text><text x="300" y="1190">取整除（向下取整）</text>
<text x="272" y="1204">==, !=</text><text x="272" y="1217">&gt;, &gt;=, &lt;, &lt;=</text><text x="272" y="1230">=</text>
<text x="272" y="1244">+=, -=, *=, /=, %=, **=</text>
<text x="268" y="1258">与（二进制）操作符</text><text x="268" y="1271">&amp;, |, ^, ~</text><text x="312" y="1271">与, 或, 异或</text>
<text x="268" y="1285">&lt;&lt;, &gt;&gt;</text><text x="312" y="1285">左移, 右移</text>
<text x="270" y="1297" class="tb">and / or / not</text><text x="270" y="1310" class="tb">in / not in</text><text x="283" y="1340" class="tb">is / is not</text>
<text x="325" y="1326">是</text><text x="325" y="1348">id</text>
<text x="148" y="1427" class="tb"><tspan style="fill:#2b6f3a">F </tspan>内建函数（BIF）</text>
<text x="224" y="1383" class="tb">type()</text><text x="263" y="1383" class="tb">查看数据类型</text><text x="224" y="1396">isinstance()</text><text x="263" y="1396" class="tb">查看数据类型</text>
<text x="224" y="1423">cmp(a, b)</text><text x="275" y="1410">a &lt; b</text><text x="310" y="1410">-1</text><text x="275" y="1423">a &gt; b</text><text x="310" y="1423">1</text><text x="275" y="1436">a = b</text><text x="310" y="1436">0</text>
</g>
</g>

<!-- Panel 10: 序列 -->
<g id="panel10" clip-path="url(#c10)">
<rect class="bg" x="368" y="950" width="294" height="490"/>
<g id="p10-connectors">
<path class="lk" d="M376,1015 V1375" style="stroke-width:1.1"/>
<path class="ln" d="M376,1017 H392 M376,1102 H388 M376,1375 H388 M370,1180 Q372,1180 372,1190 Q372,1198 369,1198 M408,1017 H415 M415,1000 V1028 M415,1000 H440 M415,1028 H440 M440,997 H455 M455,1003 V1040 M455,1004 H498 M455,1016 H475 M455,1028 H475 M455,1040 H480 M413,1102 H423 M423,1057 V1140 M423,1057 H490 M423,1140 H488 M488,1140 H490 M490,1073 V1207 M490,1075 H530 M490,1117 H510 M490,1129 H510 M490,1204 H515 M530,1075 H540 M540,1069 V1083 M540,1069 H610 M540,1083 H560 M520,1117 H560 M520,1129 H560 M515,1204 H520 M520,1148 V1262 M520,1148 H560 M520,1172 H560 M520,1219 H560 M520,1260 H560 M560,1148 H570 M570,1142 V1156 M570,1142 H600 M570,1155 H625 M560,1172 H570 M570,1166 V1180 M570,1167 H600 M570,1180 H650 M560,1219 H570 M570,1200 V1243 M570,1203 H600 M570,1216 H600 M570,1228 H600 M570,1242 H660 M600,1203 H608 M608,1198 V1210 M608,1199 H640 M608,1210 H640 M560,1260 H570 M570,1253 V1267 M570,1254 H660 M570,1267 H655"/>
<path class="ln" d="M612,1066 Q616,1066 616,1071 Q616,1076 618,1076 Q616,1076 616,1081 Q616,1086 612,1086"/>
<path class="ln" d="M398,1375 V1290 M398,1291 H420 M502,1291 Q505,1291 505,1295 Q505,1299 508,1299 Q505,1299 505,1303 Q505,1308 502,1308 M408,1375 H495 M495,1375 H502 M502,1348 V1406 M502,1348 H513 M502,1382 H513 M502,1407 H513 M545,1348 H552 M552,1325 V1368 M552,1325 H575 M552,1338 H590 M552,1351 H575 M552,1363 H575 M560,1382 H577 M577,1375 V1389 M577,1375 H610 M577,1389 H605 M558,1407 H565 M565,1400 V1414 M565,1400 H590 M565,1413 H590 M398,1375 V1440 M455,1428 V1440 M455,1428 H640 M455,1439 H640"/>
</g>
<rect class="nb" x="392" y="1011" width="16" height="11"/><rect class="nb" x="388" y="1095" width="25" height="14"/><rect class="nb" x="388" y="1369" width="20" height="12"/>
<path class="shape" d="M432,1287 C420,1287 420,1300 432,1305 C425,1318 470,1320 502,1318 V1274 C470,1270 430,1268 432,1287 Z"/>
<path class="ln" d="M462,1296 H470 M470,1283 V1309 M470,1284 H500 M470,1297 H500 M470,1309 H500"/>
<rect class="hl" x="528" y="1088" width="104" height="15" rx="3" style="stroke:#e2dc70;stroke-width:0.6"/>
<rect class="tag" x="620" y="1068" width="35" height="10" rx="2"/>
<rect class="tag" x="512" y="1290" width="30" height="10" rx="2"/>
<circle cx="535" cy="1257" r="2.2" fill="#e8cc3c"/>
<g class="t" style="font-size:5.5px">
<text x="395" y="1019" style="font-size:6px">内建</text><text x="391" y="1105" style="font-size:6px">操作符</text><text x="392" y="1378" style="font-size:6px">BIF</text>
<text x="430" y="997" class="tb">类型</text><text x="430" y="1025" class="tb">转换</text>
<text x="460" y="990" class="tb">序列类</text><text x="458" y="1002" class="tb">通过「下标索引」访问</text>
<text x="458" y="1014">F str</text><text x="458" y="1026" class="tb">F list</text><text x="458" y="1038" class="tb">F tuple</text>
<text x="436" y="1055"><tspan style="fill:#2b6f3a">F </tspan>标准类型操作符</text><text x="502" y="1055">适用于</text>
<text x="436" y="1138"><tspan style="fill:#2b6f3a">F </tspan>序列类型操作符</text>
<text x="502" y="1073" class="tb">成员操作符</text><text x="543" y="1067" class="tb">in</text><text x="568" y="1068">obj [not] in seq</text><text x="543" y="1081" class="tb">not in</text>
<text x="624" y="1075" style="fill:#fff;font-size:5px">True / False</text>
<text x="532" y="1098" style="font-size:7px;fill:#333" class="tb">推荐用 seq1.extend(seq2)</text>
<text x="502" y="1115" class="tb">连接</text><text x="534" y="1115" class="tb">+</text><text x="562" y="1115">seq1 + seq2</text>
<text x="502" y="1127" class="tb">重复</text><text x="534" y="1127" class="tb">*</text><text x="562" y="1127">seq * expr</text>
<text x="502" y="1202" class="tb">切片</text>
<text x="532" y="1146" class="tb">[] [:] [::]</text><text x="577" y="1140" class="tb">seq[ind]</text><text x="577" y="1153" class="tb">seq[ind1:ind2]</text>
<text x="532" y="1170" class="tb">索引规则</text><text x="577" y="1165">[下限, 上限, 步长]</text><text x="577" y="1178">上限本身</text><text x="617" y="1178">不包括在内</text>
<text x="532" y="1217" class="tb">切片格式</text><text x="577" y="1197" class="tb">省略/默认</text><text x="612" y="1197">[:: -1]</text><text x="612" y="1208">倒序</text>
<text x="577" y="1214" class="tb">步长</text><text x="612" y="1216">[::1]</text><text x="577" y="1226" class="tb">起始</text><text x="612" y="1226">-1</text>
<text x="577" y="1240" class="tb">步长</text><text x="600" y="1240">1 / 正数 / 负数 / 步长</text>
<text x="540" y="1259" class="tb">注意</text><text x="577" y="1252">步长为零</text><text x="617" y="1252">不能是零的下标</text><text x="577" y="1265">range(1, -1, 1)</text><text x="627" y="1265">无效</text>
<text x="433" y="1299" style="font-size:5px">类型转换</text><text x="476" y="1282" class="tb">list()</text><text x="476" y="1295" class="tb">str()</text><text x="476" y="1307" class="tb">tuple()</text>
<text x="516" y="1297" style="fill:#fff;font-size:5px">工厂函数</text>
<text x="420" y="1373">可迭代 是 对</text><text x="465" y="1373">参数: 序列</text>
<text x="513" y="1346" class="tb">常用函数</text><text x="555" y="1323" class="tb">len()</text><text x="555" y="1336" class="tb">reversed()</text><text x="555" y="1349" class="tb">sum()</text><text x="555" y="1361" class="tb">zip()</text>
<text x="513" y="1380" class="tb">以上+可迭代对象</text><text x="579" y="1373" class="tb">enumerate()</text><text x="579" y="1387" class="tb">sorted()</text>
<text x="513" y="1405" class="tb">以上+参数列表</text><text x="568" y="1398" class="tb">max()</text><text x="568" y="1411" class="tb">min()</text>
<text x="465" y="1426" class="tb">all()</text><text x="498" y="1426" class="tb">空值</text><text x="532" y="1426">True</text><text x="562" y="1426">以真「所有」元素都为 True</text>
<text x="465" y="1437" class="tb">any()</text><text x="498" y="1437" class="tb">空值</text><text x="532" y="1437">True</text><text x="562" y="1437">以真「任一」元素为 True</text>
</g>
</g>

<!-- Panel 11: 计算机语言 / 运行 Python -->
<g id="panel11" clip-path="url(#c11)">
<rect class="bg" x="690" y="955" width="385" height="485"/>
<g id="p11-connectors">
<path class="ln" d="M1018,1107 H1075 M1018,1343 H1060 M963,1107 H968 M963,1030 V1177 M963,1030 H950 M963,1177 H880 M932,1030 H950 M932,1003 V1050 M932,1003 H915 M932,1050 H915 M882,1003 H890 M882,997 V1016 M882,997 H845 M882,1016 H775 M880,1050 H890 M880,1025 V1085 M880,1026 H793 M880,1085 H870 M835,1085 H845 M835,1065 V1103 M835,1065 H820 M835,1103 H735 M803,1065 H818 M803,1037 V1087 M803,1037 H745 M803,1075 H735 M803,1087 H725 M795,1055 H803 M880,1177 H840 M832,1177 H838 M832,1141 V1215 M832,1141 H820 M832,1213 H820 M798,1141 H805 M798,1112 V1165 M798,1113 H705 M798,1152 H705 M798,1165 H695 M748,1129 H798 M798,1213 H805 M798,1175 V1248 M798,1175 H743 M798,1213 H735 M798,1248 H698 M788,1191 H798 M745,1226 H798"/>
<path class="ln" d="M960,1343 H962 M960,1292 V1390 M960,1292 H935 M960,1388 H935 M913,1292 H922 M913,1280 V1300 M913,1281 H870 M913,1300 H870 M870,1281 H858 M858,1274 V1287 M858,1275 H768 M858,1287 H818 M870,1300 H785 M913,1388 H922 M913,1340 V1440 M913,1340 H860 M913,1405 H838 M913,1435 H870 M860,1340 H800 M838,1405 H832 M832,1390 V1420 M832,1389 H773 M832,1406 H767 M832,1420 H787 M767,1389 H692 M767,1393 H692 M767,1408 H695 M787,1420 H752 M870,1435 H817"/>
</g>
<rect class="nb" x="968" y="1100" width="50" height="15"/>
<rect class="nb" x="962" y="1335" width="56" height="17"/>
<rect class="root" x="1040" y="1222" width="40" height="30" rx="4"/>
<rect class="nb" x="680" y="1355" width="30" height="12"/>
<rect class="hl" x="692" y="1045" width="104" height="17" rx="3"/>
<rect class="hl" x="693" y="1120" width="55" height="17" rx="3"/>
<rect class="hl" x="720" y="1182" width="69" height="18" rx="3"/>
<rect class="hl" x="692" y="1217" width="54" height="18" rx="3"/>
<rect class="hl" x="858" y="1307" width="46" height="17" rx="3"/>
<rect class="hl" x="713" y="1352" width="45" height="17" rx="3"/>
<rect class="ir" x="772" y="1382" width="5" height="5"/><rect class="iy" x="767" y="1402" width="5" height="5"/><rect class="ib" x="786" y="1416" width="5" height="5"/>
<g class="t" style="font-size:5.5px">
<text x="972" y="1111" style="font-size:7.5px">计算机语言</text><text x="966" y="1347" style="font-size:7.5px">运行 Python</text>
<text x="938" y="1028" class="tb">类型</text><text x="888" y="1001" class="tb">编译型语言</text><text x="888" y="1054" class="tb">解释型语言</text>
<text x="838" y="995">C 语言 ...</text><text x="775" y="1014">Java 既需要编译也需要解释</text><text x="857" y="1014">合入</text>
<text x="793" y="1024">Python / Ruby / PHP ...</text><text x="843" y="1083" class="tb">脚本语言</text>
<text x="810" y="1063" class="tb">特点</text><text x="747" y="1035" class="tb">简单（解释器）</text>
<text x="696" y="1057" style="font-size:7px;fill:#333">程序代码 → 最终执行文件</text>
<text x="736" y="1073">以「文本形式」存在</text><text x="725" y="1085">无编译</text><text x="767" y="1085">动态语言</text>
<text x="735" y="1101">Python / Perl / JavaScript ...</text>
<text x="838" y="1175" class="tb">翻译方式</text><text x="882" y="1157">高级语言（人写）</text><text x="882" y="1165">↓ 需要翻译为</text><text x="882" y="1175">机器语言（计算机执行）</text>
<text x="805" y="1139" class="tb">编译</text><text x="805" y="1211" class="tb">解释</text>
<text x="705" y="1111">程序执行之前翻译（机器码）</text><text x="697" y="1132" style="font-size:7px;fill:#333">执行效率高</text>
<text x="705" y="1150">不同需要翻译</text><text x="762" y="1150">以后执行</text><text x="692" y="1163">文件（编译后的机器）</text><text x="775" y="1163">exe</text>
<text x="743" y="1173">不需要（编译）</text><text x="725" y="1195" style="font-size:7px;fill:#333">需要「解释器」</text>
<text x="735" y="1211">边执行边（翻译）</text><text x="695" y="1230" style="font-size:7px;fill:#333">跨平台性较好</text>
<text x="698" y="1246">每执行都要先翻译</text><text x="762" y="1246">每行执行</text>
<text x="922" y="1290">两种模式</text><text x="922" y="1386">运行脚本</text>
<text x="870" y="1279" class="tb">脚本式编程</text><text x="870" y="1298" class="tb">交互式编程</text>
<text x="768" y="1273">编写完整脚本</text><text x="818" y="1273">一次性执行</text><text x="818" y="1285">命令行模式</text>
<text x="785" y="1298">写执行</text><text x="825" y="1298">进行输入</text><text x="862" y="1319" style="font-size:7px;fill:#333">显式调用</text>
<text x="803" y="1338" class="tb">python *.py</text><text x="862" y="1338"><tspan style="fill:#2b6f3a">F </tspan>命令行模式</text>
<text x="716" y="1364" style="font-size:7px;fill:#333">env 命令</text>
<text x="692" y="1380" class="tb">/usr/bin/env python</text><text x="692" y="1392" class="tb">/usr/local/bin/python</text><text x="695" y="1406" class="tb">chmod 755 *.py</text><text x="752" y="1419" class="tb">*.py</text>
<text x="779" y="1387">脚本第一行指定</text><text x="774" y="1407">命令行赋予权限</text><text x="793" y="1421">运行脚本</text>
<text x="838" y="1403"><tspan style="fill:#2b6f3a">F </tspan>Unix 下可执行脚本</text>
<text x="817" y="1433" class="tb">%run *.py</text><text x="870" y="1433"><tspan style="fill:#2b6f3a">F </tspan>IPython</text>
</g>
</g>

<!-- Title -->
<g id="title">
<text class="ttl" x="40" y="692" textLength="980" lengthAdjust="spacingAndGlyphs">14张Python全套思维导图</text>
</g>
</svg>
